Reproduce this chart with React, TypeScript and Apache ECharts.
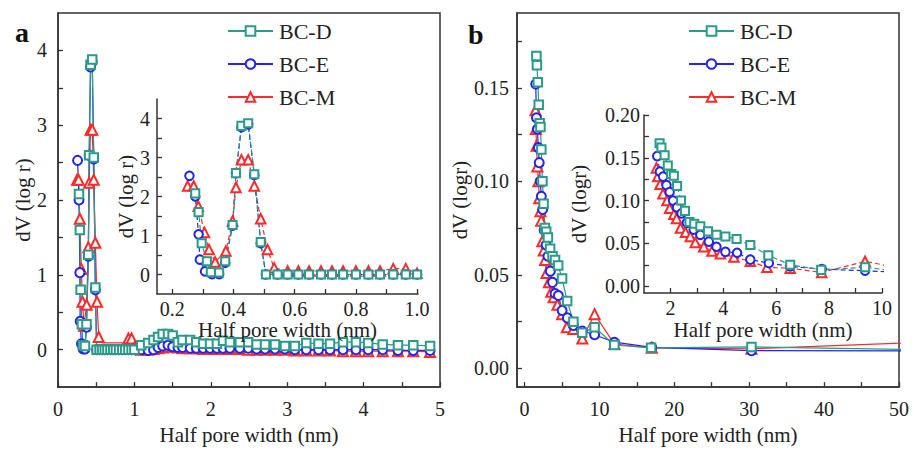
import React, { useEffect, useRef } from 'react';
import * as echarts from 'echarts';

const FONT = 'Liberation Serif';
const TEAL = '#2A9A8A';
const BLUE = '#2424EE';
const RED = '#FF2A2A';
const INK = '#222222';
const AXIS = '#333333';

// ---------- Panel a (half pore width, nm / dV(log r)) ----------
const aD_x = [0.275, 0.286, 0.296, 0.313, 0.326, 0.353, 0.373, 0.397, 0.408, 0.426, 0.448, 0.468, 0.489, 0.506, 0.544, 0.577, 0.612, 0.647, 0.686, 0.722, 0.758, 0.800, 0.841, 0.879, 0.922, 0.963, 1.00, 1.09, 1.18, 1.25, 1.31, 1.37, 1.44, 1.50, 1.57, 1.63, 1.73, 1.81, 1.90, 1.99, 2.08, 2.16, 2.25, 2.38, 2.49, 2.60, 2.71, 2.84, 2.97, 3.10, 3.25, 3.41, 3.56, 3.73, 3.90, 4.06, 4.25, 4.45, 4.65, 4.87];
const aD_y = [2.08, 1.60, 0.80, 0.34, 0.06, 0.05, 0.34, 1.27, 2.60, 3.81, 3.88, 2.57, 0.83, 0, 0, 0, 0, 0, 0, 0, 0, 0, 0, 0, 0, 0, 0, 0.06, 0.09, 0.13, 0.17, 0.21, 0.21, 0.19, 0.10, 0.13, 0.13, 0.10, 0.08, 0.08, 0.08, 0.12, 0.10, 0.10, 0.10, 0.07, 0.07, 0.07, 0.05, 0.05, 0.09, 0.08, 0.08, 0.10, 0.10, 0.09, 0.07, 0.06, 0.06, 0.05];

const aE_x = [0.256, 0.275, 0.286, 0.290, 0.307, 0.330, 0.353, 0.373, 0.397, 0.408, 0.426, 0.448, 0.468, 0.489, 0.506, 0.544, 0.577, 0.612, 0.647, 0.686, 0.722, 0.758, 0.800, 0.841, 0.879, 0.922, 0.963, 1.00, 1.09, 1.18, 1.25, 1.31, 1.37, 1.44, 1.50, 1.57, 1.63, 1.73, 1.81, 1.90, 1.99, 2.08, 2.16, 2.25, 2.38, 2.49, 2.60, 2.71, 2.84, 2.97, 3.10, 3.25, 3.41, 3.56, 3.73, 3.90, 4.06, 4.25, 4.45, 4.65, 4.87];
const aE_y = [2.53, 2.00, 1.03, 0.38, 0.08, 0.01, 0.01, 0.30, 1.25, 2.60, 3.78, 3.85, 2.55, 0.80, 0, 0, 0, 0, 0, 0, 0, 0, 0, 0, 0, 0, 0, 0, 0, -0.01, 0, 0.03, 0.05, 0.06, 0.04, 0.03, 0.03, 0.02, 0.02, 0.02, 0.02, 0.02, 0.02, 0.02, 0.02, 0.02, 0.01, 0.01, 0.01, 0.01, 0, 0, 0, 0, 0, 0, 0, 0, -0.01, -0.01, -0.01];

const aM_x = [0.250, 0.270, 0.285, 0.305, 0.320, 0.340, 0.375, 0.397, 0.408, 0.426, 0.448, 0.468, 0.489, 0.511, 0.533, 0.577, 0.612, 0.647, 0.686, 0.722, 0.758, 0.800, 0.841, 0.879, 0.922, 0.963, 1.00, 1.09, 1.18, 1.25, 1.31, 1.37, 1.44, 1.50, 1.57, 1.63, 1.73, 1.81, 1.90, 1.99, 2.08, 2.16, 2.25, 2.38, 2.49, 2.60, 2.71, 2.84, 2.97, 3.10, 3.25, 3.41, 3.56, 3.73, 3.90, 4.06, 4.25, 4.45, 4.65, 4.87];
const aM_y = [2.27, 2.27, 1.75, 1.08, 0.64, 0.32, 0.60, 1.37, 2.23, 2.94, 2.94, 2.27, 1.43, 0.64, 0.17, 0.09, 0.09, 0.09, 0.09, 0.09, 0.09, 0.09, 0.09, 0.09, 0.15, 0.15, 0.03, 0, 0, 0.01, 0.02, 0.03, 0.04, 0.04, 0.03, 0.02, 0.02, 0.02, 0.01, 0.01, 0.01, 0.01, 0.01, 0.01, 0, 0, 0, 0, 0, -0.01, -0.01, -0.01, -0.01, -0.02, -0.02, -0.02, -0.02, -0.02, -0.02, -0.03];
// in the main panel a, BC-M markers are not drawn between these widths (only the line)
const aM_mainMarkerGap = [0.55, 0.9];

// ---------- Panel b (half pore width, nm / dV(logr)) ----------
const bD_x = [1.59, 1.66, 1.78, 1.90, 2.03, 2.13, 2.25, 2.40, 2.55, 2.72, 2.90, 3.13, 3.42, 3.74, 4.08, 4.50, 5.02, 5.70, 6.53, 7.70, 9.36, 12.0, 16.9, 30.3, 60];
const bD_y = [0.167, 0.162, 0.153, 0.141, 0.131, 0.129, 0.117, 0.100, 0.088, 0.075, 0.073, 0.070, 0.064, 0.060, 0.058, 0.055, 0.048, 0.036, 0.025, 0.019, 0.022, 0.0125, 0.011, 0.0115, 0.0095];
const bE_x = [1.50, 1.60, 1.72, 1.85, 1.97, 2.10, 2.25, 2.42, 2.62, 2.88, 3.13, 3.45, 3.74, 4.08, 4.52, 5.02, 5.72, 6.53, 7.72, 9.36, 12.0, 17.0, 30.3, 60];
const bE_y = [0.152, 0.134, 0.128, 0.118, 0.110, 0.100, 0.092, 0.085, 0.074, 0.066, 0.060, 0.052, 0.046, 0.040, 0.039, 0.031, 0.027, 0.023, 0.020, 0.018, 0.014, 0.0112, 0.0095, 0.0093];
const bM_x = [1.47, 1.52, 1.61, 1.72, 1.87, 1.97, 2.13, 2.23, 2.38, 2.57, 2.75, 2.94, 3.26, 3.57, 3.89, 4.40, 5.02, 5.65, 6.53, 7.72, 9.36, 12.0, 17.0, 30.3, 60];
const bM_y = [0.138, 0.128, 0.119, 0.108, 0.100, 0.091, 0.084, 0.079, 0.068, 0.063, 0.058, 0.051, 0.046, 0.041, 0.038, 0.034, 0.029, 0.022, 0.021, 0.016, 0.029, 0.013, 0.011, 0.0105, 0.015];

// ---------- Tick labels / tick positions ----------
const aMainXLabels = [0, 1, 2, 3, 4, 5];
const aMainXTicks = [0, 0.5, 1, 1.5, 2, 2.5, 3, 3.5, 4, 4.5, 5];
const aMainYLabels = [0, 1, 2, 3, 4];
const aMainYTicks = [0, 0.5, 1, 1.5, 2, 2.5, 3, 3.5, 4];
const aInsetXLabels = [0.2, 0.4, 0.6, 0.8, 1.0];
const aInsetXTicks = [0.2, 0.3, 0.4, 0.5, 0.6, 0.7, 0.8, 0.9, 1.0];
const aInsetYLabels = [0, 1, 2, 3, 4];
const aInsetYTicks = [0, 0.5, 1, 1.5, 2, 2.5, 3, 3.5, 4];
const bMainXLabels = [0, 10, 20, 30, 40, 50];
const bMainXTicks = [0, 5, 10, 15, 20, 25, 30, 35, 40, 45, 50];
const bMainYLabels = [0, 0.05, 0.1, 0.15];
const bMainYTicks = [0, 0.025, 0.05, 0.075, 0.1, 0.125, 0.15, 0.175];
const bInsetXLabels = [2, 4, 6, 8, 10];
const bInsetXTicks = [2, 3, 4, 5, 6, 7, 8, 9, 10];
const bInsetYLabels = [0, 0.05, 0.1, 0.15, 0.2];
const bInsetYTicks = [0, 0.025, 0.05, 0.075, 0.1, 0.125, 0.15, 0.175, 0.2];

const SERIES_NAMES = ['BC-D', 'BC-E', 'BC-M'];

function pairs(xs: number[], ys: number[]) {
  return xs.map((x, i) => [x, ys[i]]);
}

function makeAxis(
  kind: 'x' | 'y',
  gridIndex: number,
  min: number,
  max: number,
  labels: number[],
  ticks: number[],
  fmt: (v: number) => string,
  name: string,
  nameGap: number,
  labelMargin: number,
  z = 0
) {
  return {
    type: 'value',
    gridIndex,
    z,
    min,
    max,
    name,
    nameLocation: 'middle',
    nameGap,
    nameRotate: kind === 'y' ? 90 : 0,
    nameTextStyle: { fontFamily: FONT, fontSize: 21, color: INK },
    axisLine: { show: true, onZero: false, lineStyle: { color: AXIS, width: 1.5 } },
    axisTick: { show: true, inside: true, length: 5, customValues: ticks, lineStyle: { color: AXIS, width: 1.3 } },
    minorTick: { show: false },
    axisLabel: {
      show: true,
      customValues: labels,
      formatter: (v: number) => fmt(v),
      margin: labelMargin,
      fontFamily: FONT,
      fontSize: 20,
      color: INK,
    },
    splitLine: { show: false },
  };
}

function makeSeries(
  name: string,
  data: any[],
  idx: number,
  color: string,
  symbol: string,
  size: number,
  dashed: boolean
) {
  return {
    type: 'line',
    name,
    data,
    xAxisIndex: idx,
    yAxisIndex: idx,
    clip: true,
    symbol,
    symbolSize: size,
    showAllSymbol: true,
    lineStyle: { color, width: 1.2, type: dashed ? [5, 3] : 'solid' },
    itemStyle: { color, borderColor: color, borderWidth: 1.3 },
    emphasis: { disabled: true },
  };
}

const f0 = (v: number) => String(Math.round(v));
const f1 = (v: number) => v.toFixed(1);
const f2 = (v: number) => v.toFixed(2);

export default function App() {
  const ref = useRef<HTMLDivElement>(null);

  useEffect(() => {
    if (!ref.current) return;
    const chart = echarts.init(ref.current, undefined, { renderer: 'svg' });

    const xName = 'Half pore width (nm)';
    const series: any[] = [];
    // main-panel BC-M: hide markers inside the gap range, keep the line
    const aM_main = pairs(aM_x, aM_y).map((pt) =>
      pt[0] > aM_mainMarkerGap[0] && pt[0] < aM_mainMarkerGap[1] ? { value: pt, symbol: 'none' } : pt
    );
    // grid 0: main a, grid 1: inset a, grid 2: main b, grid 3: inset b
    const panelData = [
      { idx: 0, D: pairs(aD_x, aD_y), E: pairs(aE_x, aE_y), M: aM_main, dashed: false, size: 1 },
      { idx: 1, D: pairs(aD_x, aD_y), E: pairs(aE_x, aE_y), M: pairs(aM_x, aM_y), dashed: true, size: 0.95 },
      { idx: 2, D: pairs(bD_x, bD_y), E: pairs(bE_x, bE_y), M: pairs(bM_x, bM_y), dashed: false, size: 1 },
      { idx: 3, D: pairs(bD_x, bD_y), E: pairs(bE_x, bE_y), M: pairs(bM_x, bM_y), dashed: true, size: 0.95 },
    ];
    panelData.forEach((p) => {
      series.push(makeSeries('BC-M', p.M, p.idx, RED, 'emptyTriangle', 10 * p.size, p.dashed));
      series.push(makeSeries('BC-E', p.E, p.idx, BLUE, 'emptyCircle', 9 * p.size, p.dashed));
      series.push(makeSeries('BC-D', p.D, p.idx, TEAL, 'emptyRect', 8.5 * p.size, p.dashed));
    });

    const legendCommon = {
      data: SERIES_NAMES,
      orient: 'vertical',
      itemWidth: 45,
      itemHeight: 12,
      itemGap: 11,
      selectedMode: false,
      textStyle: { fontFamily: FONT, fontSize: 22, color: INK, padding: [0, 0, 0, 1] },
    };

    const option: any = {
      animation: false,
      backgroundColor: '#ffffff',
      grid: [
        { left: 58, top: 13, width: 382, height: 384, show: true, borderColor: AXIS, borderWidth: 1.5, backgroundColor: 'transparent' },
        { left: 157, top: 99, width: 261, height: 195 },
        { left: 517, top: 13, width: 382, height: 384, show: true, borderColor: AXIS, borderWidth: 1.5, backgroundColor: 'transparent' },
        { left: 644, top: 115, width: 238, height: 178 },
      ],
      xAxis: [
        makeAxis('x', 0, 0, 5, aMainXLabels, aMainXTicks, f0, xName, 28, 12),
        makeAxis('x', 1, 0.15, 1.003, aInsetXLabels, aInsetXTicks, f1, xName, 25, 5, 5),
        makeAxis('x', 2, -1, 50, bMainXLabels, bMainXTicks, f0, xName, 28, 12),
        makeAxis('x', 3, 1, 10, bInsetXLabels, bInsetXTicks, f0, xName, 26, 5, 5),
      ],
      yAxis: [
        makeAxis('y', 0, -0.5, 4.5, aMainYLabels, aMainYTicks, f0, 'dV (log r)', 24, 11),
        makeAxis('y', 1, -0.5, 4.5, aInsetYLabels, aInsetYTicks, f0, 'dV (log r)', 20, 7),
        makeAxis('y', 2, -0.01, 0.19, bMainYLabels, bMainYTicks, f2, 'dV (logr)', 37, 8),
        makeAxis('y', 3, -0.008, 0.2, bInsetYLabels, bInsetYTicks, f2, 'dV (logr)', 55, 4),
      ],
      legend: [
        { ...legendCommon, left: 222, top: 15 },
        { ...legendCommon, left: 683, top: 15 },
      ],
      graphic: [
        { type: 'text', left: 15, top: 18, style: { text: 'a', font: `bold 28px ${FONT}`, fill: '#111' } },
        { type: 'text', left: 468, top: 20, style: { text: 'b', font: `bold 28px ${FONT}`, fill: '#111' } },
      ],
      series,
    };

    chart.setOption(option);
    return () => chart.dispose();
  }, []);

  return <div ref={ref} style={{ position: 'fixed', left: 0, top: 0, width: 914, height: 450 }} />;
}
